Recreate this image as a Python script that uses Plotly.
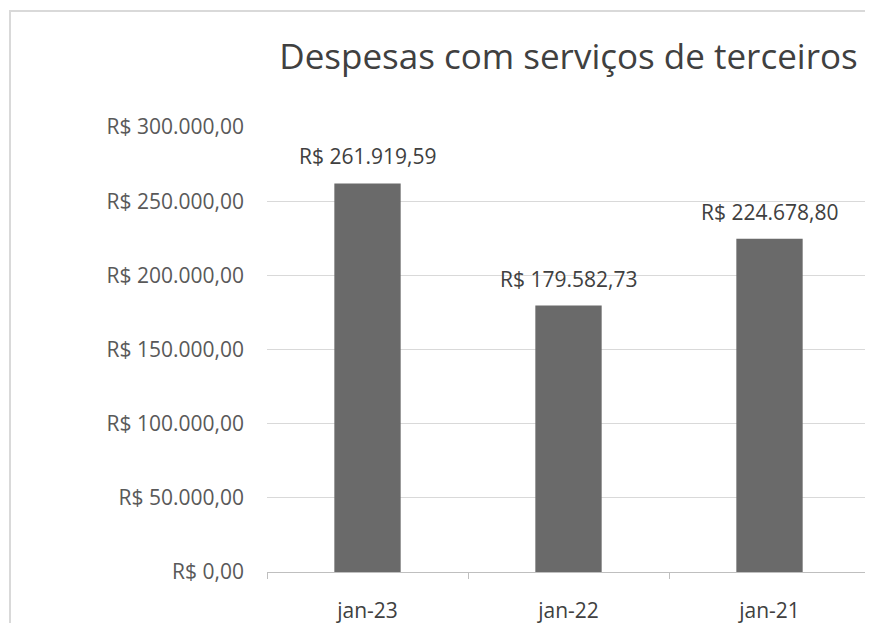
import plotly.graph_objects as go

categories = ["jan-23", "jan-22", "jan-21"]
values = [261919.59, 179582.73, 224678.80]
value_labels = ["R$ 261.919,59", "R$ 179.582,73", "R$ 224.678,80"]
tick_vals = [0, 50000, 100000, 150000, 200000, 250000, 300000]
tick_text = ["R$ 0,00", "R$ 50.000,00", "R$ 100.000,00", "R$ 150.000,00",
             "R$ 200.000,00", "R$ 250.000,00", "R$ 300.000,00"]
title = "Despesas com serviços de terceiros"

OFF = 8  # page body margin in the browser
W, H = 873 - OFF, 623 - OFF
L, R, T, B = 267 - OFF, 3, 127 - OFF, 51
pw, ph = W - L - R, H - T - B

fig = go.Figure()
fig.add_trace(go.Bar(
    x=categories, y=values, width=0.33,
    marker=dict(color="#6a6a6a", line=dict(width=0)),
    hoverinfo="skip",
))

for c, v, t in zip(categories, values, value_labels):
    fig.add_annotation(x=c, y=v, text=t, showarrow=False, yanchor="bottom",
                       yshift=11, font=dict(family="Open Sans", size=21, color="#404040"))

fig.update_layout(
    width=W, height=H,
    margin=dict(l=L, r=R, t=T, b=B, autoexpand=False),
    paper_bgcolor="white", plot_bgcolor="white",
    showlegend=False,
    font=dict(family="Open Sans", color="#595959"),
    title=dict(text=title, x=(L + pw / 2) / W, xanchor="center",
               y=1 - (57 - OFF) / H, yanchor="middle", yref="container",
               font=dict(family="Open Sans", size=35, color="#404040")),
    xaxis=dict(range=[-0.5, 2.5], tickson="boundaries", ticks="outside",
               ticklen=6, tickcolor="#bfbfbf", showline=True, linecolor="#bfbfbf",
               linewidth=1, showgrid=False, automargin=False,
               tickfont=dict(family="Open Sans", size=21, color="#404040"),
               ticklabelstandoff=20),
    yaxis=dict(range=[0, 300000], tickvals=tick_vals, ticktext=tick_text,
               showgrid=True, gridcolor="#d9d9d9", gridwidth=1, zeroline=False,
               showline=False, ticks="", automargin=False,
               tickfont=dict(family="Open Sans", size=21, color="#595959"),
               ticklabelstandoff=22),
)

# outer chart border (light gray), partly cut off at right/bottom as in source
x0 = (10 - OFF - L) / pw
x1 = (W + 20 - L) / pw
y1 = (H - B - (11 - OFF)) / ph
y0 = (H - B - (H + 20)) / ph
fig.add_shape(type="rect", xref="paper", yref="paper", x0=x0, x1=x1, y0=y0, y1=y1,
              line=dict(color="#d9d9d9", width=2), fillcolor="rgba(0,0,0,0)", layer="below")

fig.write_html("out.html")
